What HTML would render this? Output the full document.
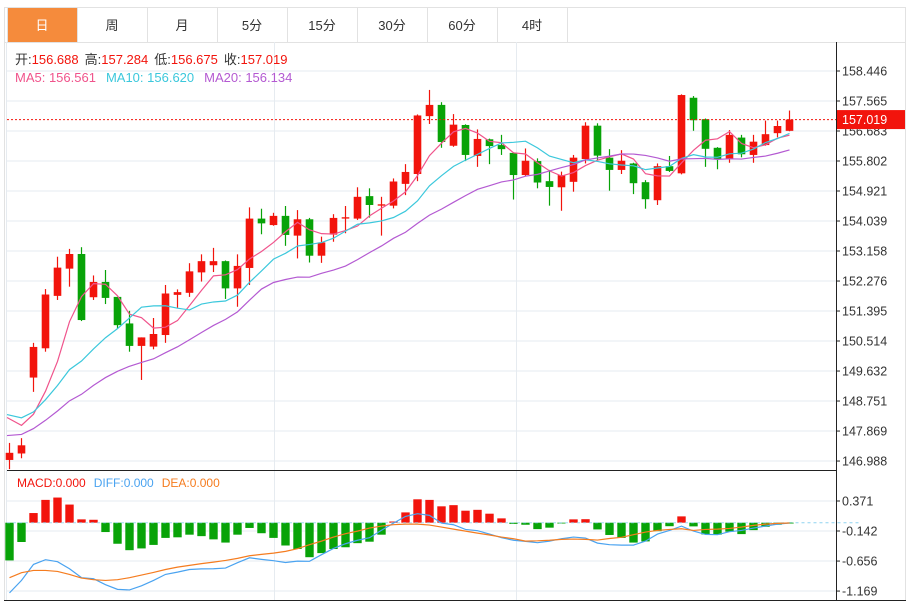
<!DOCTYPE html>
<html><head><meta charset="utf-8"><style>
html,body{margin:0;padding:0;background:#fff;}
svg{display:block;font-family:"Liberation Sans","Noto Sans CJK SC",sans-serif;}
</style></head><body>
<svg id="chart" width="911" height="602" viewBox="0 0 911 602" xmlns="http://www.w3.org/2000/svg">
<rect x="4.5" y="7.5" width="901" height="593" fill="#fff" stroke="#e2e2e2"/>
<g id="tabs"></g>
<g id="grid"></g>
<g id="mainMarks"></g>
<g id="macdMarks"></g>
<g id="axes"></g>
<g id="legend">
  <text x="15" y="64" font-size="13"><tspan fill="#333">开:</tspan><tspan fill="#f2140c">156.688</tspan><tspan fill="#333" dx="6">高:</tspan><tspan fill="#f2140c">157.284</tspan><tspan fill="#333" dx="6">低:</tspan><tspan fill="#f2140c">156.675</tspan><tspan fill="#333" dx="6">收:</tspan><tspan fill="#f2140c">157.019</tspan></text>
  <text x="15" y="82" font-size="13"><tspan fill="#f0548c">MA5: 156.561</tspan><tspan fill="#3cc8dc" dx="10">MA10: 156.620</tspan><tspan fill="#b45ad2" dx="10">MA20: 156.134</tspan></text>
  <text x="17" y="487" font-size="12"><tspan fill="#f2140c">MACD:0.000</tspan><tspan fill="#4aa3f0" dx="8">DIFF:0.000</tspan><tspan fill="#f57c1f" dx="8">DEA:0.000</tspan></text>
</g>
</svg>
<script>
const tabLabels=["日","周","月","5分","15分","30分","60分","4时"];
const priceTicks=[158.446,157.565,156.683,155.802,154.921,154.039,153.158,152.276,151.395,150.514,149.632,148.751,147.869,146.988];
const macdTicks=[0.371,-0.142,-0.656,-1.169];
const openP=[147.02,147.21,149.44,150.30,151.84,152.64,153.07,151.80,152.25,151.81,151.03,150.37,150.35,150.69,151.87,151.93,152.53,152.74,152.86,152.06,152.66,154.11,153.92,154.19,153.61,154.09,153.02,153.64,154.11,154.11,154.77,154.49,154.49,155.13,155.42,157.12,157.45,156.25,156.86,155.95,156.44,156.27,156.04,155.39,155.80,155.21,155.03,155.19,155.86,156.84,155.90,155.54,155.73,155.18,154.65,155.65,155.44,157.66,157.03,156.19,155.86,156.49,155.98,156.27,156.62,156.688];
const highP=[147.52,147.66,150.46,152.04,152.99,153.22,153.27,152.44,152.60,151.81,151.40,150.62,151.19,152.16,152.03,152.80,153.06,153.25,152.88,153.06,154.44,154.40,154.28,154.48,154.36,154.13,153.58,154.24,154.48,155.03,155.00,154.75,155.29,155.71,157.17,157.89,157.53,157.18,156.88,156.73,156.46,156.57,156.06,156.17,155.88,155.54,155.49,155.98,156.94,156.91,156.15,156.12,155.75,155.24,155.73,155.95,157.76,157.71,157.05,156.21,156.71,156.57,156.57,156.99,156.99,157.284];
const lowP=[146.75,147.07,149.02,150.20,151.72,152.11,151.10,151.72,151.60,150.88,150.20,149.37,150.27,150.46,151.49,151.81,152.26,152.54,151.75,151.52,152.16,153.65,153.90,153.31,152.94,152.82,152.81,153.43,153.68,154.07,154.14,153.61,154.41,154.80,155.21,156.89,156.19,156.22,155.80,155.63,155.71,155.98,154.67,155.36,155.00,154.49,154.34,154.90,155.73,155.83,154.93,155.42,154.83,154.40,154.51,155.48,155.41,156.69,155.63,155.56,155.75,155.91,155.75,156.25,156.50,156.675];
const closeP=[147.23,147.45,150.34,151.88,152.67,153.07,151.13,152.25,151.78,150.98,150.37,150.62,150.72,151.91,151.95,152.56,152.86,152.86,152.06,152.72,154.11,153.97,154.19,153.63,154.09,153.02,153.41,154.13,154.15,154.75,154.51,154.53,155.20,155.48,157.14,157.45,156.36,156.87,155.98,156.45,156.24,156.15,155.39,155.81,155.17,155.04,155.39,155.90,156.84,155.96,155.54,155.81,155.15,154.68,155.65,155.51,157.74,157.00,156.16,155.86,156.57,156.00,156.37,156.59,156.83,157.019];
const priorClose=[146.8,146.9,147.0,147.2,147.1,147.3,147.0,147.2,147.3,147.4,148.4,148.6,148.3,148.5,148.4,148.6,148.7,148.5,148.3];
const macdHist=[-0.645,-0.33,0.165,0.39,0.43,0.31,0.057,0.05,-0.16,-0.36,-0.47,-0.44,-0.38,-0.26,-0.25,-0.205,-0.23,-0.285,-0.34,-0.205,-0.09,-0.18,-0.26,-0.39,-0.45,-0.59,-0.52,-0.45,-0.42,-0.35,-0.325,-0.205,0.02,0.176,0.40,0.39,0.28,0.30,0.205,0.22,0.154,0.074,-0.02,-0.035,-0.11,-0.085,-0.01,0.057,0.06,-0.115,-0.21,-0.26,-0.34,-0.32,-0.145,-0.06,0.108,-0.063,-0.2,-0.205,-0.154,-0.195,-0.127,-0.07,-0.035,-0.005];
const diffV=[-1.2,-0.987,-0.713,-0.633,-0.667,-0.787,-0.94,-0.958,-1.06,-1.14,-1.15,-1.08,-0.987,-0.884,-0.845,-0.80,-0.79,-0.787,-0.776,-0.684,-0.60,-0.627,-0.65,-0.68,-0.657,-0.66,-0.547,-0.44,-0.36,-0.30,-0.257,-0.13,-0.007,0.108,0.154,0.125,-0.007,-0.035,-0.115,-0.137,-0.195,-0.257,-0.30,-0.32,-0.342,-0.315,-0.274,-0.246,-0.263,-0.349,-0.376,-0.383,-0.383,-0.315,-0.195,-0.132,-0.058,-0.144,-0.2,-0.205,-0.154,-0.132,-0.092,-0.058,-0.024,-0.005];
const deaV=[-0.94,-0.855,-0.816,-0.816,-0.833,-0.884,-0.947,-0.975,-0.987,-0.975,-0.94,-0.896,-0.85,-0.80,-0.76,-0.73,-0.70,-0.674,-0.645,-0.61,-0.565,-0.542,-0.52,-0.49,-0.445,-0.376,-0.315,-0.246,-0.188,-0.144,-0.092,-0.058,-0.034,-0.024,-0.024,-0.04,-0.075,-0.11,-0.144,-0.178,-0.21,-0.246,-0.274,-0.315,-0.31,-0.30,-0.285,-0.28,-0.285,-0.297,-0.27,-0.25,-0.205,-0.16,-0.132,-0.115,-0.103,-0.132,-0.115,-0.11,-0.098,-0.075,-0.046,-0.024,-0.012,-0.005];
const lastPrice=157.019;

const NS="http://www.w3.org/2000/svg";
const L=7,R=836,MT=42,MB=470,BT=471,BB=600;
const xS=i=>9.5+12*i;
const yP=p=>71+(158.446-p)/0.8813*30;
const yM=v=>501+(0.371-v)/0.513*30;
function mk(tag,attrs,parent){const e=document.createElementNS(NS,tag);for(const k in attrs)e.setAttribute(k,attrs[k]);parent.appendChild(e);return e;}
const RED="#f2140c",GREEN="#08a308";

const tabs=document.getElementById('tabs');
tabLabels.forEach((t,i)=>{
  const g=mk('g',{},tabs);
  
  
  mk('rect',{x:7+70*i+0.5,y:7.5,width:70,height:35,fill:i===0?'#f58b3c':'#fff',stroke:'#e2e2e2'},g);
  const tx=mk('text',{x:7+70*i+35,y:30,'text-anchor':'middle','font-size':13,fill:i===0?'#fff':'#333'},g);
  tx.textContent=t;
});
mk('line',{x1:4,x2:906,y1:42.5,y2:42.5,stroke:'#e2e2e2'},tabs);

const grid=document.getElementById('grid');
priceTicks.forEach(p=>{const l=mk('line',{x1:L,x2:R,y1:yP(p),y2:yP(p),stroke:'#e6ebf0'},grid);});
macdTicks.forEach(v=>{const l=mk('line',{x1:L,x2:R,y1:yM(v),y2:yM(v),stroke:'#e6ebf0'},grid);});
[274,516].forEach(x=>{mk('line',{x1:x+0.5,x2:x+0.5,y1:MT,y2:BB,stroke:'#e6ebf0'},grid);});
mk('line',{x1:L-0.5,x2:L-0.5,y1:MT,y2:BB,stroke:'#e6ebf0'},grid);

const mm=document.getElementById('mainMarks');
closeP.forEach((c,i)=>{
  const o=openP[i],up=c>=o,col=up?RED:GREEN,x=xS(i);
  const g=mk('g',{},mm);
  
  
  mk('line',{x1:x,x2:x,y1:yP(highP[i]),y2:yP(lowP[i]),stroke:col,'stroke-width':1.2},g);
  const t=Math.min(yP(o),yP(c)),h=Math.max(1,Math.abs(yP(o)-yP(c)));
  mk('rect',{x:x-3.8,y:t,width:7.6,height:h,fill:col},g);
});
const allC=priorClose.concat(closeP);
function ma(n){return closeP.map((_,i)=>{const j=i+priorClose.length;let s=0;for(let k=j-n+1;k<=j;k++)s+=allC[k];return s/n;});}
[[5,'#f0548c'],[10,'#3cc8dc'],[20,'#b45ad2']].forEach(([n,col])=>{
  const v=ma(n);
  const pl=mk('polyline',{points:v.map((p,i)=>(i===0?L:xS(i))+','+yP(p)).join(' '),fill:'none',stroke:col,'stroke-width':1.2},mm);
  
  
});
const lp=mk('line',{x1:L,x2:R,y1:yP(lastPrice),y2:yP(lastPrice),stroke:RED,'stroke-dasharray':'2,2'},mm);



const mc=document.getElementById('macdMarks');
const z=yM(0);
mk('line',{x1:xS(macdHist.length-1),x2:860,y1:z,y2:z,stroke:'#8fd3f0','stroke-dasharray':'3,3'},mc);
macdHist.forEach((v,i)=>{
  const y=yM(v);
  const r=mk('rect',{x:xS(i)-4.2,y:Math.min(y,z),width:8.4,height:Math.max(0.8,Math.abs(y-z)),fill:v>=0?RED:GREEN},mc);
  
  
});
mk('line',{x1:L,x2:xS(macdHist.length-1),y1:z,y2:z,stroke:'#8fd3f0','stroke-dasharray':'3,3','stroke-opacity':0.8},mc);
const dl=mk('polyline',{points:diffV.map((v,i)=>xS(i)+','+yM(v)).join(' '),fill:'none',stroke:'#4aa3f0','stroke-width':1.2},mc);


const el=mk('polyline',{points:deaV.map((v,i)=>xS(i)+','+yM(v)).join(' '),fill:'none',stroke:'#f57c1f','stroke-width':1.2},mc);



const ax=document.getElementById('axes');
mk('line',{x1:R+0.5,x2:R+0.5,y1:MT,y2:BB,stroke:'#222'},ax);
mk('line',{x1:L,x2:R,y1:470.5,y2:470.5,stroke:'#222'},ax);
mk('line',{x1:4,x2:906,y1:600.5,y2:600.5,stroke:'#222'},ax);
priceTicks.forEach(p=>{
  mk('line',{x1:R,x2:R+4,y1:yP(p),y2:yP(p),stroke:'#222'},ax);
  const t=mk('text',{x:842,y:yP(p)+4.5,'font-size':12.5,fill:'#333'},ax);
  
  
  t.textContent=p.toFixed(3);
});
macdTicks.forEach(v=>{
  mk('line',{x1:R,x2:R+4,y1:yM(v),y2:yM(v),stroke:'#222'},ax);
  const t=mk('text',{x:842,y:yM(v)+4.5,'font-size':12.5,fill:'#333'},ax);
  
  
  t.textContent=v.toFixed(3);
});
const yl=yP(lastPrice);
const lb=mk('rect',{x:837,y:yl-9.5,width:68,height:19,fill:RED},ax);


const lt=mk('text',{x:842,y:yl+4.5,'font-size':12.5,fill:'#fff'},ax);


lt.textContent=lastPrice.toFixed(3);
</script>
</body></html>
